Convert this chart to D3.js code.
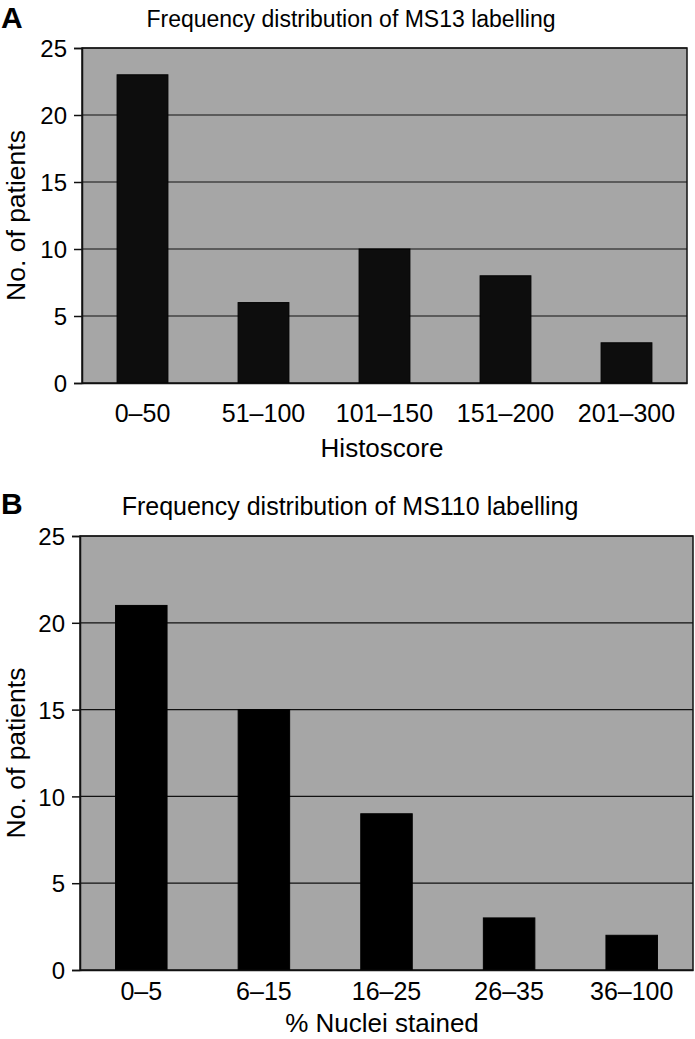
<!DOCTYPE html>
<html><head><meta charset="utf-8">
<script src="https://cdn.jsdelivr.net/npm/d3@7"></script>
<style>body{margin:0;background:#fff}svg{display:block;font-family:"Liberation Sans",Arial,Helvetica,sans-serif}</style>
</head><body>
<script>
const catsA = ["0–50","51–100","101–150","151–200","201–300"];
const valsA = [23, 6, 10, 8, 3];
const catsB = ["0–5","6–15","16–25","26–35","36–100"];
const valsB = [21, 15, 9, 3, 2];
const yTicks = [0, 5, 10, 15, 20, 25];

const svg = d3.select("body").append("svg").attr("width",695).attr("height",1039);

function panel(cfg){
  const g = svg.append("g");
  const x = d3.scaleBand().domain(cfg.cats).range([cfg.left, cfg.right]).paddingInner(0.58).paddingOuter(0.29);
  const y = d3.scaleLinear().domain([0,25]).range([cfg.bottom, cfg.top]);
  g.append("rect").attr("x",cfg.left).attr("y",cfg.top).attr("width",cfg.right-cfg.left).attr("height",cfg.bottom-cfg.top)
    .attr("fill","#a6a6a6").attr("stroke","#111").attr("stroke-width",1.5);
  g.selectAll(".grid").data(yTicks.filter(d=>d>0)).join("line")
    .attr("x1",cfg.left).attr("x2",cfg.right).attr("y1",d=>y(d)).attr("y2",d=>y(d))
    .attr("stroke","#111").attr("stroke-width",1.2);
  g.selectAll(".bar").data(cfg.vals).join("rect")
    .attr("x",(d,i)=>x(cfg.cats[i])).attr("width",x.bandwidth())
    .attr("y",d=>y(d)).attr("height",d=>y(0)-y(d))
    .attr("fill",cfg.barColor).attr("stroke","#000").attr("stroke-width",1);
  const ya = g.append("g").attr("transform",`translate(${cfg.left},0)`)
    .call(d3.axisLeft(y).tickValues(yTicks).tickSize(8).tickPadding(7));
  ya.select(".domain").attr("stroke","#111").attr("stroke-width",1.5);
  ya.selectAll(".tick line").attr("stroke","#111").attr("stroke-width",1.5);
  ya.selectAll("text").attr("font-size",24).attr("fill","#000").attr("font-family","inherit").attr("dy","0.36em");
  const xa = g.append("g").attr("transform",`translate(0,${cfg.bottom})`)
    .call(d3.axisBottom(x).tickSize(0).tickPadding(0));
  xa.select(".domain").attr("stroke","#111").attr("stroke-width",1.5);
  xa.selectAll("text").attr("font-size",25).attr("fill","#000").attr("font-family","inherit")
    .attr("dy",null).attr("y",cfg.xTickDy);
  g.append("text").attr("x",cfg.titleX).attr("y",cfg.titleY).attr("text-anchor","middle")
    .attr("font-size",cfg.titleSize).text(cfg.title);
  g.append("text").attr("x",1).attr("y",cfg.letterY).attr("font-size",30).attr("font-weight","bold").text(cfg.letter);
  g.append("text").attr("x",cfg.xLabelX).attr("y",cfg.xLabelY).attr("text-anchor","middle")
    .attr("font-size",26).text(cfg.xLabel);
  g.append("text").attr("transform",`translate(25,${(cfg.top+cfg.bottom)/2}) rotate(-90)`)
    .attr("text-anchor","middle").attr("font-size",26.5).text("No. of patients");
}

panel({cats:catsA, vals:valsA, left:82, right:687, top:48, bottom:383, barColor:"#0d0d0d", xTickDy:39,
  title:"Frequency distribution of MS13 labelling", titleX:351, titleY:27, titleSize:23, letter:"A", letterY:28,
  xLabelX:382, xLabelY:457, xLabel:"Histoscore"});
panel({cats:catsB, vals:valsB, left:80, right:693, top:536, bottom:970, barColor:"#000", xTickDy:30,
  title:"Frequency distribution of MS110 labelling", titleX:350, titleY:515, titleSize:25, letter:"B", letterY:514,
  xLabelX:382, xLabelY:1032, xLabel:"% Nuclei stained"});
</script>
</body></html>
